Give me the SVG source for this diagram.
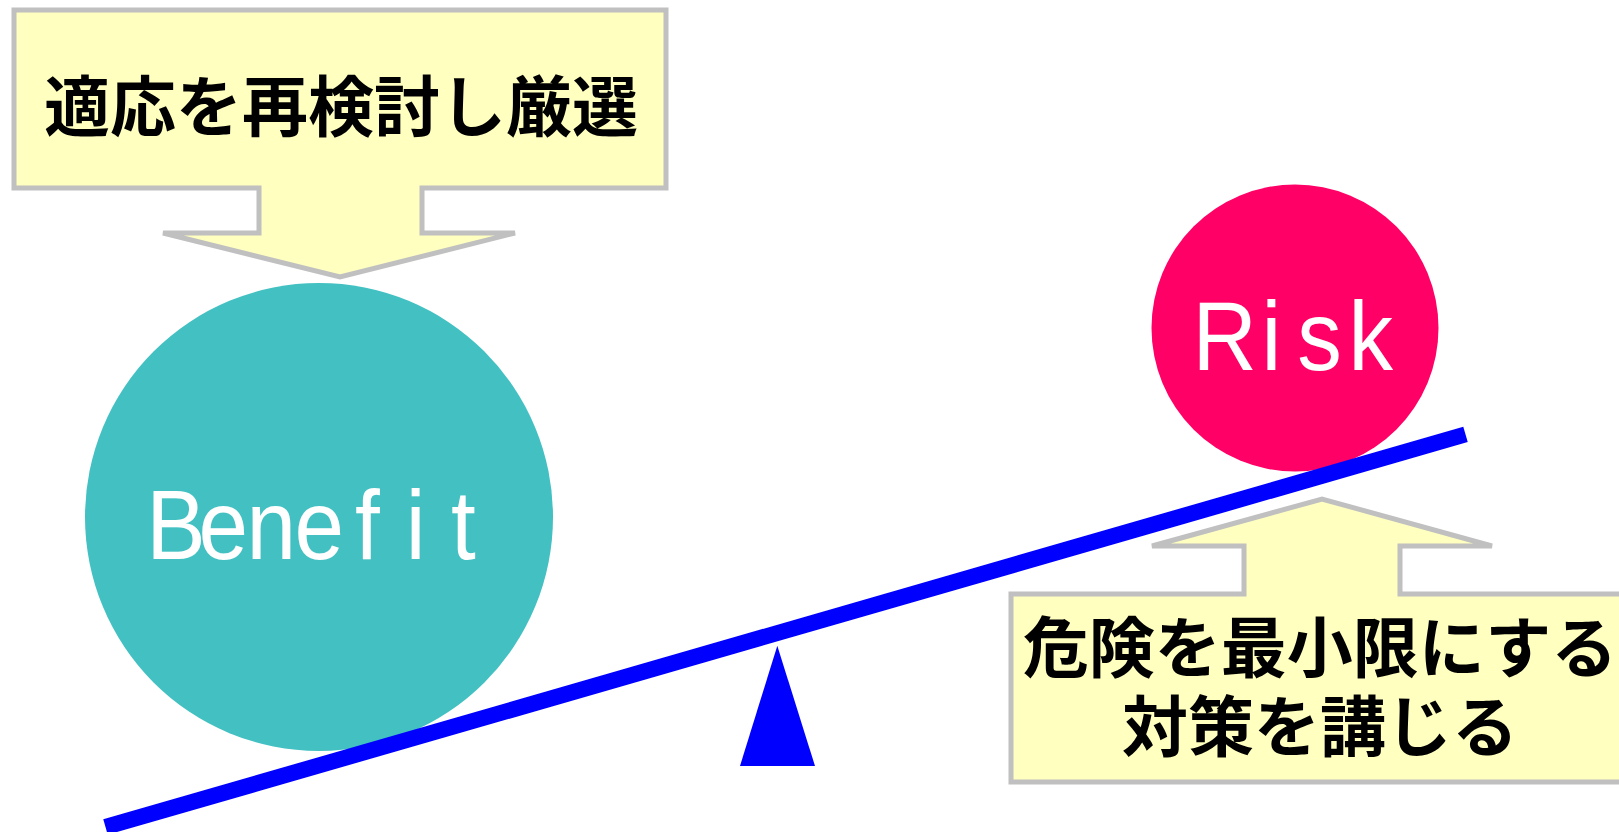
<svg xmlns="http://www.w3.org/2000/svg" width="1619" height="832" viewBox="0 0 1619 832">
<style>
.callout{fill:#FFFFC0;stroke:#C0C0C0;stroke-width:5;stroke-linejoin:miter}
.jp{font-family:"Noto Sans CJK JP","Noto Sans CJK SC",sans-serif;font-weight:bold;font-size:66px;fill:#000;text-anchor:middle}
.lat{font-family:"Liberation Sans",Arial,sans-serif;font-size:99px;fill:#FFFFFF;text-anchor:middle}
</style>
<rect width="1619" height="832" fill="#FFFFFF"/>
<g id="benefit">
<circle cx="319" cy="517" r="234" fill="#42C0C2"/>
<text class="lat" transform="scale(0.9 1)" x="195.6 248.1 301.4 354.8 408.1 461.9 514.8" y="559">Benefit</text>
</g>
<g id="risk">
<circle cx="1295" cy="328" r="143.5" fill="#FF0066"/>
<text class="lat" transform="scale(0.9 1)" x="1360.8 1412.6 1466.1 1523.1" y="370">Risk</text>
</g>
<g id="callout-top">
<path class="callout" d="M14,10 H666 V188 H422 V233 H515 L340,277 L163,233 H259 V188 H14 Z"/>
<text class="jp" x="341" y="131">適応を再検討し厳選</text>
</g>
<g id="callout-bottom">
<path class="callout" d="M1011,594 H1244 V546 H1152 L1322,499 L1492,546 H1400 V594 H1630 V782 H1011 Z"/>
<text class="jp"><tspan x="1320" y="672">危険を最小限にする</tspan><tspan x="1320" y="751">対策を講じる</tspan></text>
</g>
<g id="fulcrum">
<polygon points="777.3,645.7 815,766 740,766" fill="#0000FF"/>
</g>
<g id="connectors">
<line x1="105.5" y1="827" x2="1465.5" y2="434.4" stroke="#0000FF" stroke-width="16"/>
</g>
</svg>
